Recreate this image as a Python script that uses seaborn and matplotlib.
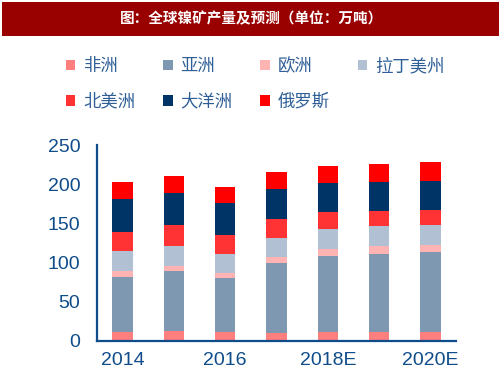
import matplotlib
matplotlib.use("Agg")
import matplotlib.pyplot as plt
import seaborn as sns
import numpy as np
import pandas as pd
from matplotlib.patches import Patch, Rectangle

# data (万吨)
years = ["2014", "2015", "2016", "2017", "2018E", "2019E", "2020E"]
africa = [10.6, 12.8, 10.6, 9.4, 10.6, 10.6, 10.6]
asia = [71.2, 76.2, 69.0, 89.4, 97.6, 99.7, 102.3]
europe = [7.2, 6.4, 6.4, 8.1, 8.9, 10.7, 8.9]
latam = [26.0, 25.6, 24.3, 24.7, 26.0, 26.0, 26.0]
n_america = [23.8, 26.8, 24.7, 23.4, 21.7, 18.7, 19.2]
oceania = [41.8, 40.4, 41.3, 38.8, 36.2, 37.5, 37.4]
russia = [22.6, 22.2, 19.7, 21.2, 22.6, 22.5, 23.5]

names = ["非洲", "亚洲", "欧洲", "拉丁美州", "北美洲", "大洋洲", "俄罗斯"]
series = [africa, asia, europe, latam, n_america, oceania, russia]
colors = ["#FF7F7F", "#7F98B2", "#FFB3B3", "#B1C1D3", "#FF3333", "#003366", "#FF0000"]
shown_ticks = ["2014", "2016", "2018E", "2020E"]

blue = "#0F4C8A"
sns.set_style("white")
plt.rcParams["font.family"] = ["Liberation Sans", "Noto Sans CJK SC", "DejaVu Sans"]

fig = plt.figure(figsize=(5.03, 3.78), dpi=100)
ax = fig.add_axes([0.1928, 0.0987, 0.7138, 0.5177])

df = pd.DataFrame(dict(zip(names, series)), index=years)
cum = df.cumsum(axis=1)

# stacked bars: draw cumulative totals from the top layer down
for name, c in reversed(list(zip(names, colors))):
    sns.barplot(x=years, y=cum[name].values, color=c, width=0.4,
                linewidth=0, saturation=1, ax=ax)

ax.set_ylim(0, 250)
ax.set_xlim(-0.5, 6.5)
ax.set_yticks([0, 50, 100, 150, 200, 250])
ax.set_xticks([years.index(t) for t in shown_ticks])
ax.set_xticklabels(shown_ticks)
ax.tick_params(axis="both", length=0, labelsize=14, labelcolor=blue)
ax.tick_params(axis="y", pad=12)
ax.tick_params(axis="x", pad=8)
ax.set_yticks([250], minor=True)
ax.tick_params(axis="y", which="minor", direction="in", length=4, width=1.5, color=blue)
ax.set_xlabel("")
ax.set_ylabel("")
for s in ["top", "right"]:
    ax.spines[s].set_visible(False)
for s in ["left", "bottom"]:
    ax.spines[s].set_color(blue)
    ax.spines[s].set_linewidth(1.6)

# title banner
fig.patches.append(Rectangle((0.004, 0.905), 0.988, 0.09, transform=fig.transFigure,
                             facecolor="#990000", edgecolor="none"))
fig.text(0.5, 0.951, "图：全球镍矿产量及预测（单位：万吨）", ha="center", va="center",
         color="white", fontsize=10.5, fontweight="bold",
         family=["Noto Sans CJK SC", "DejaVu Sans"])

# legend, row-major order across 4 columns
order = [0, 4, 1, 5, 2, 6, 3]
handles = [Patch(facecolor=colors[i], edgecolor="none", label=names[i]) for i in order]
leg = fig.legend(handles=handles, ncol=4, loc="upper left", bbox_to_anchor=(0.1, 0.89),
                 frameon=False, handlelength=0.55, handleheight=0.55, handletextpad=0.45,
                 columnspacing=1.6, labelspacing=1.0,
                 prop={"family": ["Noto Sans CJK SC", "DejaVu Sans"], "size": 12.5})
for t in leg.get_texts():
    t.set_color("#2F5F97")

fig.savefig("out.png", dpi=100)
